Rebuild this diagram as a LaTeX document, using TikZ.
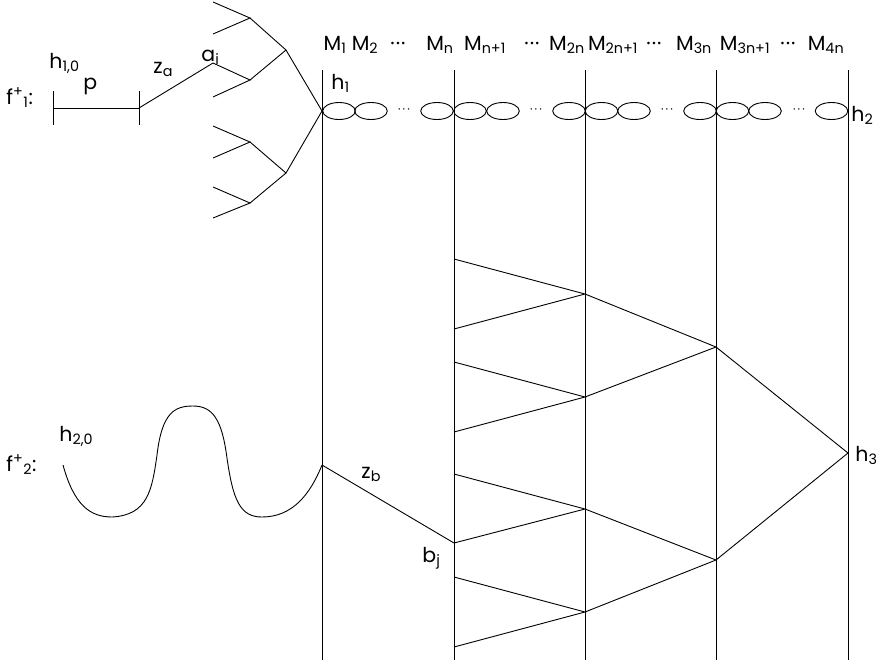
\documentclass[tikz,border=0pt]{standalone}
\usepackage{fontspec}
\setmainfont{Poppins}
\usetikzlibrary{positioning}

\tikzset{
  lbl/.style={inner sep=0pt, anchor=base west, font=\fontsize{20.5}{20.5}\selectfont},
  mlbl/.style={inner sep=0pt, anchor=base, font=\fontsize{20.5}{20.5}\selectfont},
  chain/.style={x radius=16.3, y radius=8.5},
  rowdots/.style={inner sep=0pt, font=\fontsize{12}{12}\selectfont}
}

\begin{document}
\begin{tikzpicture}[x=1pt, y=-1pt, line width=0.9pt]
\useasboundingbox (0,0) rectangle (883,665);
% Vertical lines
\coordinate (t1) at (322,70);  \coordinate (b1) at (322,660);
\coordinate (t2) at (454,70);  \coordinate (b2) at (454,660);
\coordinate (t3) at (585,70);  \coordinate (b3) at (585,660);
\coordinate (t4) at (716,70);  \coordinate (b4) at (716,660);
\coordinate (t5) at (848,70);  \coordinate (b5) at (848,660);
\draw (t1) -- (b1);
\draw (t2) -- (b2);
\draw (t3) -- (b3);
\draw (t4) -- (b4);
\draw (t5) -- (b5);
% Column labels
\node[mlbl] (m1) at (335,50) {M\textsubscript{1}};
\node[mlbl] (m2) at (365,50) {M\textsubscript{2}};
\node[mlbl] (d1) at (398,50) {·\kern1pt·\kern1pt·};
\node[mlbl] (mn) at (440,50) {M\textsubscript{n}};
\node[mlbl] (mn1) at (485,50) {M\textsubscript{n+1}};
\node[mlbl] (d2) at (532,50) {·\kern1pt·\kern1pt·};
\node[mlbl] (m2n) at (567,50) {M\textsubscript{2n}};
\node[mlbl] (m2n1) at (613,50) {M\textsubscript{2n+1}};
\node[mlbl] (d3) at (654,50) {·\kern1pt·\kern1pt·};
\node[mlbl] (m3n) at (694,50) {M\textsubscript{3n}};
\node[mlbl] (m3n1) at (745,50) {M\textsubscript{3n+1}};
\node[mlbl] (d4) at (788,50) {·\kern1pt·\kern1pt·};
\node[mlbl] (m4n) at (826,50) {M\textsubscript{4n}};
% Chain of loops between h1 and h2
\draw (339,111) ellipse [chain];
\draw (371,111) ellipse [chain];
\node[rowdots] (e1) at (404,111) {·\,·\,·};
\draw (437,111) ellipse [chain];
\draw (470,111) ellipse [chain];
\draw (503,111) ellipse [chain];
\node[rowdots] (e2) at (536,111) {·\,·\,·};
\draw (569,111) ellipse [chain];
\draw (601.5,111) ellipse [chain];
\draw (634,111) ellipse [chain];
\node[rowdots] (e3) at (667,111) {·\,·\,·};
\draw (700,111) ellipse [chain];
\draw (732.5,111) ellipse [chain];
\draw (765,111) ellipse [chain];
\node[rowdots] (e4) at (799,111) {·\,·\,·};
\draw (831.5,111) ellipse [chain];
\node[lbl] (h1) at (331,89) {h\textsubscript{1}};
\node[lbl] (h2) at (851,121) {h\textsubscript{2}};
% f+1: segment p and the tree
\node[lbl] (f1) at (6,104) {f\textsuperscript{+}\textsubscript{1}:};
\coordinate (p0) at (53,108);
\coordinate (p1) at (139,108);
\draw (53,91) -- (53,125);
\draw (139,91) -- (139,125);
\draw (p0) -- (p1);
\node[lbl] (h10) at (49,68) {h\textsubscript{1,0}};
\node[lbl] (plbl) at (83,89) {p};
\coordinate (root) at (322,111);
\coordinate (u) at (286,50);
\coordinate (d) at (286,173);
\coordinate (uu) at (250,18);
\coordinate (ud) at (250,80);
\coordinate (du) at (250,142);
\coordinate (dd) at (250,203);
\coordinate (ai) at (213,63);
\draw (p1) -- (ai);
\draw (root) -- (u) -- (uu);
\draw (u) -- (ud);
\draw (root) -- (d) -- (du);
\draw (d) -- (dd);
\draw (213,2) -- (uu) -- (213,34);
\draw (ai) -- (ud) -- (213,97);
\draw (213,126) -- (du) -- (213,158);
\draw (213,187) -- (dd) -- (213,218);
\node[lbl] (za) at (153,73) {z\textsubscript{a}};
\node[lbl] (ailbl) at (201,61) {a\textsubscript{i}};
% f+2: wave and z_b
\node[lbl] (f2) at (6,471) {f\textsuperscript{+}\textsubscript{2}:};
\node[lbl] (h20) at (59,441) {h\textsubscript{2,0}};
\coordinate (w0) at (63,465);
\coordinate (w1) at (322,465);
\draw (w0) .. controls (74,505) and (90,517) .. (112,517)
  .. controls (148,515) and (152,490) .. (157,455)
  .. controls (162,412) and (175,406) .. (193,406)
  .. controls (213,406) and (222,420) .. (227,458)
  .. controls (233,500) and (240,517) .. (262,517)
  .. controls (292,517) and (310,495) .. (w1);
\coordinate (bj) at (454,543);
\draw (w1) -- (bj);
\node[lbl] (zb) at (361,478) {z\textsubscript{b}};
\node[lbl] (bjlbl) at (422,562) {b\textsubscript{j}};
% Merge network down to h3
\coordinate (l1) at (454,259);
\coordinate (l2) at (454,329);
\coordinate (l3) at (454,362);
\coordinate (l4) at (454,432);
\coordinate (l5) at (454,474);
\coordinate (l7) at (454,577);
\coordinate (l8) at (454,647);
\coordinate (na) at (585,294);
\coordinate (nb) at (585,397);
\coordinate (nc) at (585,509);
\coordinate (nd) at (585,612);
\coordinate (ne) at (716,347);
\coordinate (nf) at (716,560);
\coordinate (h3) at (848,453);
\draw (l1) -- (na) -- (l2);
\draw (l3) -- (nb) -- (l4);
\draw (l5) -- (nc) -- (bj);
\draw (l7) -- (nd) -- (l8);
\draw (na) -- (ne) -- (nb);
\draw (nc) -- (nf) -- (nd);
\draw (ne) -- (h3) -- (nf);
\node[lbl] (h3lbl) at (855,461) {h\textsubscript{3}};
\end{tikzpicture}
\end{document}
